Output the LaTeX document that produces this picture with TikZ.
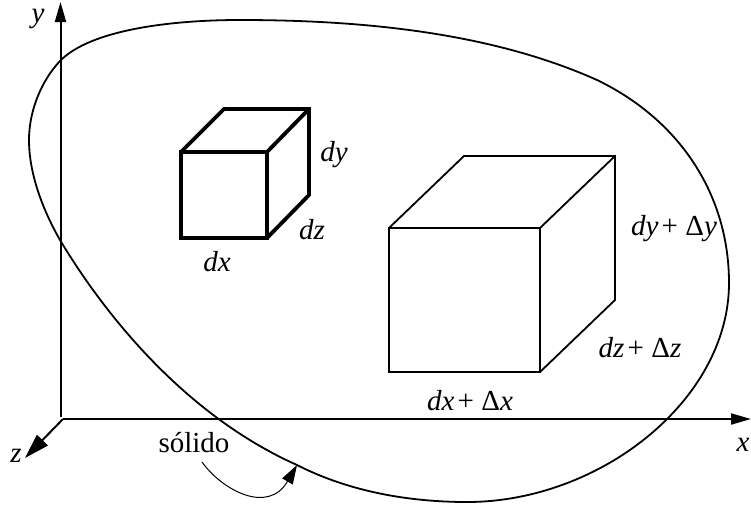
\documentclass[tikz,border=0pt]{standalone}
\usepackage{fontspec}
\setmainfont{Liberation Serif}
\usetikzlibrary{arrows.meta}
\newcommand{\lbl}[1]{\textit{#1}}
\newcommand{\plusd}{\kern3pt+\kern7.5ptΔ}
\tikzset{
  px/.style={x=1pt,y=-1pt},
  axisline/.style={line width=2pt,-{Triangle[length=20pt,width=11pt]}},
  bold cube/.style={line width=3.8pt,line join=miter},
  big cube/.style={line width=1.8pt,line join=miter},
  blob/.style={line width=1.8pt},
  leader/.style={line width=1pt,-{Triangle[length=19pt,width=12pt]}},
  txt/.style={font=\fontsize{29}{29}\selectfont,inner sep=0pt,anchor=center}
}
\begin{document}
\begin{tikzpicture}[px]
\useasboundingbox (0,0) rectangle (751,504);
\fill[white] (0,0) rectangle (751,504);
\coordinate (yb) at (60.5,417);
\coordinate (yt) at (60.5,2);
\coordinate (xb) at (63,419);
\coordinate (xt) at (751,419);
\coordinate (zt) at (25,458);
\draw[axisline] (yb) -- (yt);
\draw[axisline] (xb) -- (xt);
\draw[axisline,-{Triangle[length=25pt,width=15pt]}] (xb) -- (zt);
\draw[blob] (29,140) .. controls (29,110) and (42,80) .. (60,61)
 .. controls (90,30) and (170,20) .. (240,20)
 .. controls (360,20) and (490,32) .. (597,80)
 .. controls (680,120) and (729,195) .. (729,283)
 .. controls (729,400) and (600,502) .. (467,502)
 .. controls (410,502) and (350,492) .. (297,465)
 .. controls (185,415) and (105,315) .. (60,240)
 .. controls (40,205) and (29,170) .. (29,140) -- cycle;
% small cube
\coordinate (sa) at (181,152); \coordinate (sb) at (267,152);
\coordinate (sc) at (267,238); \coordinate (sd) at (181,238);
\coordinate (se) at (224,109); \coordinate (sf) at (309,109);
\coordinate (sg) at (309,195);
\draw[bold cube] (sa) -- (sb) -- (sc) -- (sd) -- cycle;
\draw[bold cube] (sa) -- (se) -- (sf) -- (sg) -- (sc);
\draw[bold cube] (sb) -- (sf);
% big cube
\coordinate (ba) at (389,228); \coordinate (bb) at (540,228);
\coordinate (bc) at (540,372); \coordinate (bd) at (389,372);
\coordinate (be) at (464,156); \coordinate (bf) at (615,156);
\coordinate (bg) at (615,300);
\draw[big cube] (ba) -- (bb) -- (bc) -- (bd) -- cycle;
\draw[big cube] (ba) -- (be) -- (bf) -- (bg) -- (bc);
\draw[big cube] (bb) -- (bf);
% labels
\node[txt] (ly) at (38,19) {\lbl{y}};
\node[txt] (lx) at (743,445) {\lbl{x}};
\node[txt] (lz) at (16,456) {\lbl{z}};
\node[txt] (ldy) at (334,155) {\lbl{dy}};
\node[txt] (ldz) at (312,230) {\lbl{dz}};
\node[txt] (ldx) at (217,262) {\lbl{dx}};
\node[txt] (lDy) at (674,229) {\lbl{dy}\plusd\lbl{y}};
\node[txt] (lDz) at (640,348) {\lbl{dz}\plusd\lbl{z}};
\node[txt] (lDx) at (470,401) {\lbl{dx}\plusd\lbl{x}};
\node[txt] (sol) at (194,443) {sólido};
\coordinate (tip) at (297,465);
\draw[leader] (202,462) .. controls (222,490) and (268,515) .. (tip);
\end{tikzpicture}
\end{document}
